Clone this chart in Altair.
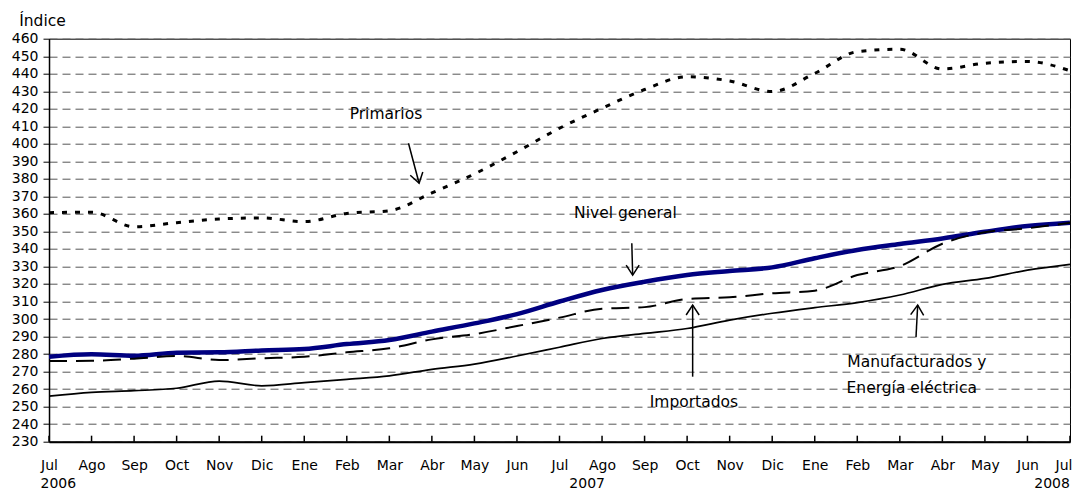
import json
import altair as alt
import pandas as pd

# ---------------- data ----------------
months = ["Jul", "Ago", "Sep", "Oct", "Nov", "Dic", "Ene", "Feb", "Mar", "Abr", "May", "Jun",
          "Jul", "Ago", "Sep", "Oct", "Nov", "Dic", "Ene", "Feb", "Mar", "Abr", "May", "Jun", "Jul"]
nivel_general = [278.5, 279.9, 279.1, 280.8, 281.0, 282.1, 282.9, 285.7, 288.0, 292.8, 297.5, 302.8,
                 310.0, 316.6, 321.3, 325.1, 327.4, 329.5, 334.7, 339.4, 342.8, 346.0, 349.8, 353.1, 355.0]
importados = [276.0, 276.2, 277.4, 278.9, 276.6, 277.6, 278.5, 281.0, 283.3, 288.4, 291.4, 296.0,
              300.8, 305.9, 306.8, 311.4, 312.4, 314.7, 316.2, 325.1, 330.2, 343.0, 349.5, 351.8, 355.0]
manufacturados = [256.0, 258.2, 259.1, 260.5, 264.6, 261.9, 263.7, 265.6, 267.6, 271.3, 274.3, 278.9,
                  283.9, 288.9, 291.8, 294.6, 299.4, 303.3, 306.5, 309.4, 313.7, 319.8, 323.2, 327.9, 331.2]
primarios = [360.7, 361.0, 352.7, 355.0, 357.1, 357.7, 355.6, 360.3, 361.8, 372.0, 382.8, 395.5,
             408.9, 420.3, 431.0, 438.3, 435.9, 429.8, 440.2, 452.6, 454.0, 442.7, 446.0, 447.0, 441.7]
years = ["2006", "2007", "2008"]
y_ticks = list(range(230, 461, 10))

# annotation anchors (month index, index value)
year_x = [0.22, 12.65, 23.58]
ann_text = ["Primarios", "Nivel general", "Importados", "Manufacturados y", "Energía eléctrica"]
ann_x = [7.92, 13.55, 15.16, 20.40, 20.28]
ann_y = [414.2, 357.8, 250.0, 272.6, 257.8]
arr_x1 = [8.45, 13.70, 15.13, 20.38]
arr_y1 = [400.3, 343.2, 267.1, 289.6]
arr_x2 = [8.70, 13.72, 15.13, 20.42]
arr_y2 = [377.5, 325.1, 308.0, 308.0]
arr_ang = [345, 0, 180, 183]

# ---------------- tables ----------------
idx = list(range(len(months)))
last = idx[-1]
wide = pd.DataFrame({"idx": idx, "mes": months,
                     "Nivel general": nivel_general, "Importados": importados,
                     "Manufacturados": manufacturados, "Primarios": primarios})
long = wide.melt(id_vars=["idx", "mes"], var_name="serie", value_name="valor")
ann_df = pd.DataFrame({"t": ann_text, "idx": ann_x, "valor": ann_y})
arr_df = pd.DataFrame({"idx": arr_x1, "valor": arr_y1, "x2": arr_x2, "y2": arr_y2, "ang": arr_ang})
year_df = pd.DataFrame({"year": years, "idx": year_x})
tick_df = pd.DataFrame({"idx": idx})

W, H = 1021, 403
xscale = alt.Scale(domain=[0, 24], nice=False, zero=False)
yscale = alt.Scale(domain=[230, 460], nice=False, zero=False)

label_expr = json.dumps(months) + "[datum.value]"

x_axis = alt.Axis(values=idx, labelExpr=label_expr, title=None, ticks=False, tickSize=0,
                  labelPadding=17, grid=False, domainColor="black", domainWidth=2,
                  labelFontSize=14, labelColor="black", labelFlush=False, labelOverlap=False,
                  labelAlign={"condition": {"test": f"datum.value == {last}", "value": "right"},
                              "value": "center"},
                  labelOffset={"condition": {"test": f"datum.value == {last}", "value": 2},
                               "value": 0})
y_axis = alt.Axis(values=y_ticks, title="Índice", titleAngle=0, titleAlign="left",
                  titleBaseline="alphabetic", titleX=-30.3, titleY=-13.4, titleFontSize=15.5,
                  titleFontWeight="normal", titleColor="black",
                  grid=True, gridDash=[8, 5], gridColor="#555555", gridWidth=1,
                  tickSize=6, tickColor="black", tickWidth=1, labelPadding=5,
                  domainColor="black", domainWidth=1.5, labelFontSize=14,
                  labelColor="black", labelOverlap=False, labelFlush=False)


def X(field):
    return alt.X(field, scale=xscale, axis=x_axis)


def Y(field):
    return alt.Y(field, scale=yscale, axis=y_axis)


base = alt.Chart(long)


def series(name, **mark):
    return base.transform_filter(alt.datum.serie == name).mark_line(
        interpolate="monotone", **mark
    ).encode(x=X("idx:Q"), y=Y("valor:Q"))


nivel_layer = series("Nivel general", color="#000080", strokeWidth=4.5)
imp_layer = series("Importados", color="black", strokeWidth=2, strokeDash=[18, 9])
man_layer = series("Manufacturados", color="black", strokeWidth=1.7)
pri_layer = series("Primarios", color="black", strokeWidth=3, strokeDash=[5, 8])

ticks_layer = alt.Chart(tick_df).mark_rule(color="black", strokeWidth=1.5).encode(
    x=X("idx:Q"),
    y=alt.value(H), y2=alt.value(H - 6),
)

ann_layer = alt.Chart(ann_df).mark_text(
    align="center", baseline="alphabetic", fontSize=15.5, color="black"
).encode(
    x=X("idx:Q"),
    y=Y("valor:Q"),
    text="t:N",
)

arr_rule = alt.Chart(arr_df).mark_rule(color="black", strokeWidth=1.5).encode(
    x=X("idx:Q"),
    y=Y("valor:Q"),
    x2="x2:Q", y2="y2:Q",
)
arr_head = alt.Chart(arr_df).mark_point(
    shape="M -0.65 -1 L 0 0 L 0.65 -1", filled=False, strokeWidth=1.5,
    size=400, color="black", opacity=1
).encode(
    x=X("x2:Q"),
    y=Y("y2:Q"),
    angle=alt.Angle("ang:Q", scale=None),
)

year_layer = alt.Chart(year_df).mark_text(
    align="center", baseline="alphabetic", fontSize=14, color="black"
).encode(
    x=X("idx:Q"),
    y=alt.value(449.3),
    text="year:N",
)

chart = alt.layer(
    nivel_layer, imp_layer, man_layer, pri_layer, ticks_layer,
    ann_layer, arr_rule, arr_head, year_layer
).properties(
    width=W, height=H,
    autosize=alt.AutoSizeParams(type="none"),
    padding={"left": 41, "top": 30.7, "right": 2, "bottom": 49},
).configure(
    font="DejaVu Sans", background="white"
).configure_view(
    stroke="black", strokeWidth=1
)

chart.save("out.html", embed_options={"renderer": "svg", "actions": False})
